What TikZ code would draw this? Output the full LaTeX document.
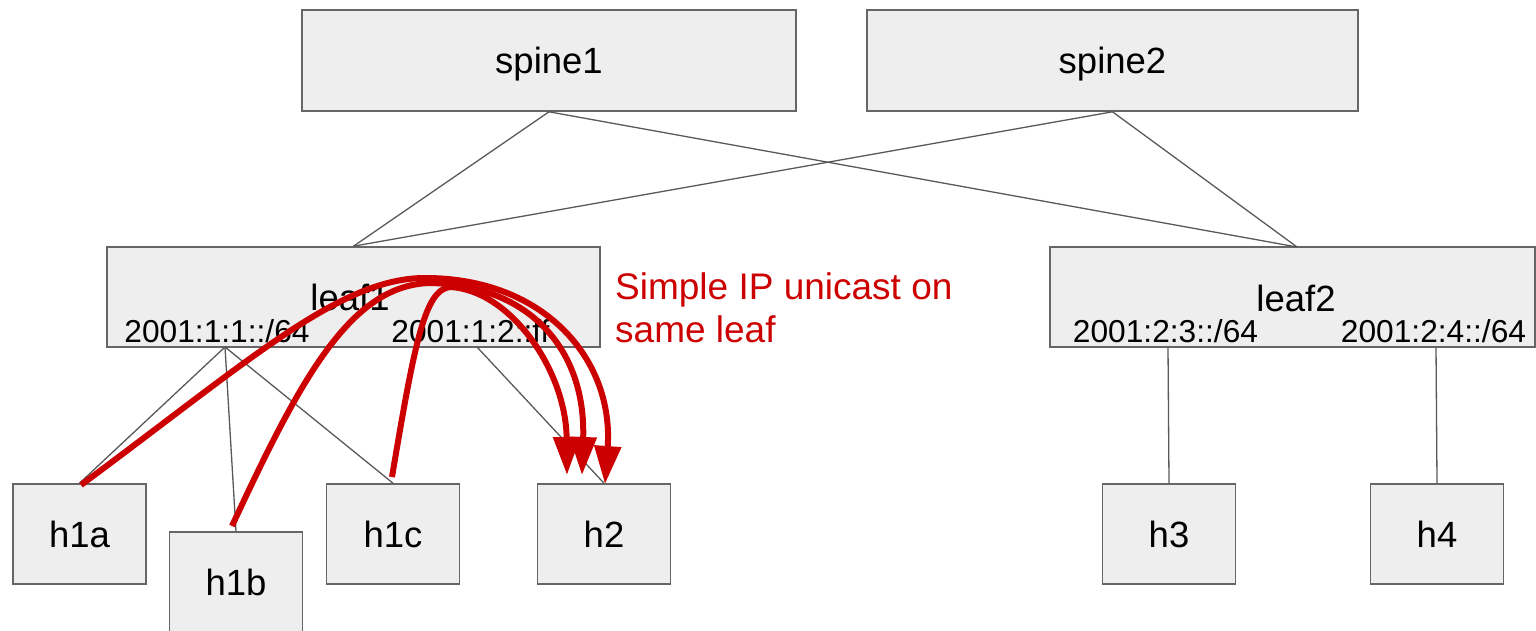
\documentclass[tikz,border=0pt]{standalone}
\usepackage{fontspec}
\setmainfont{Liberation Sans}
\usetikzlibrary{arrows.meta,calc}
\definecolor{boxfill}{HTML}{EEEEEE}
\definecolor{boxline}{HTML}{666666}
\definecolor{linkgray}{HTML}{595959}
\definecolor{flowred}{HTML}{CC0000}

\begin{document}
\begin{tikzpicture}[x=1pt,y=-1pt,
  box/.style={draw=boxline, fill=boxfill, line width=1.6pt, inner sep=0pt,
    text height=26pt, text depth=0pt, font=\fontsize{36.5}{40}\selectfont},
  hostbox/.style={box, minimum width=133pt, minimum height=100pt},
  lbl/.style={anchor=base, inner sep=0pt, font=\fontsize{36.5}{40}\selectfont},
  addr/.style={anchor=base, inner sep=0pt, font=\fontsize{31.7}{36}\selectfont},
  link/.style={draw=linkgray, line width=1.3pt},
  flow/.style={draw=flowred, line width=6pt,
    -{Triangle[length=38pt,width=26pt]}},
]
\useasboundingbox (0,0) rectangle (1536,631);

% switches
\node[box, minimum width=494pt, minimum height=101pt] (spine1) at (549,60.5) {spine1};
\node[box, minimum width=491pt, minimum height=101pt] (spine2) at (1112.5,60.5) {spine2};
\node[box, minimum width=493pt, minimum height=100pt] (leaf1) at (353.5,297) {};
\node[box, minimum width=485pt, minimum height=100pt] (leaf2) at (1292.5,297) {};

% hosts
\node[hostbox] (h1a) at (79.5,534) {h1a};
\node[hostbox] (h1b) at (236,582) {h1b};
\node[hostbox] (h1c) at (393,534) {h1c};
\node[hostbox] (h2)  at (604,534) {h2};
\node[hostbox] (h3)  at (1169,534) {h3};
\node[hostbox] (h4)  at (1437,534) {h4};

% leaf labels and subnets
\node[lbl] (leaf1name) at (350,310) {leaf1};
\node[lbl] (leaf2name) at (1296,311) {leaf2};
\node[addr] (net11) at (217,342) {2001:1:1::/64};
\node[addr] (net12) at (470.5,342) {2001:1:2::ff};
\node[addr] (net23) at (1165.5,342) {2001:2:3::/64};
\node[addr] (net24) at (1433.5,342) {2001:2:4::/64};

% port positions on the leaves
\coordinate (leaf2top) at (1297,247);
\coordinate (p11) at (225,347);
\coordinate (p12) at (477,347);
\coordinate (p23) at (1168,347);
\coordinate (p24) at (1436,347);

% fabric links
\draw[link] (spine1.south) -- (leaf1.north);
\draw[link] (spine1.south) -- (leaf2top);
\draw[link] (spine2.south) -- (leaf1.north);
\draw[link] (spine2.south) -- (leaf2top);

% access links
\draw[link] (p11) -- (h1a.north);
\draw[link] (p11) -- (h1b.north);
\draw[link] (p11) -- (h1c.north);
\draw[link] (p12) -- (h2.north);
\draw[link] (p23) -- (h3.north);
\draw[link] (p24) -- (h4.north);

% unicast flows towards h2
\coordinate (fa) at (81,485);
\coordinate (fb) at (232,526);
\coordinate (fc) at (392,477);
\coordinate (ta) at (605,484);
\coordinate (tb) at (582,475);
\coordinate (tc) at (567,475);

\draw[flow] (fa) .. controls (250,360) and (340,278) .. (425,278)
                 .. controls (545,278) and (614,360) .. (ta);
\draw[flow] (fb) .. controls (300,380) and (350,285) .. (430,283)
                 .. controls (530,285) and (586,350) .. (tb);
\draw[flow] (fc) .. controls (415,340) and (425,290) .. (450,287)
                 .. controls (510,290) and (566,370) .. (tc);

\node[anchor=north west, inner sep=0pt, align=left, text=flowred,
      font=\fontsize{37}{43}\selectfont] (note) at (615,272.5)
  {Simple IP unicast on\\same leaf};
\end{tikzpicture}
\end{document}
